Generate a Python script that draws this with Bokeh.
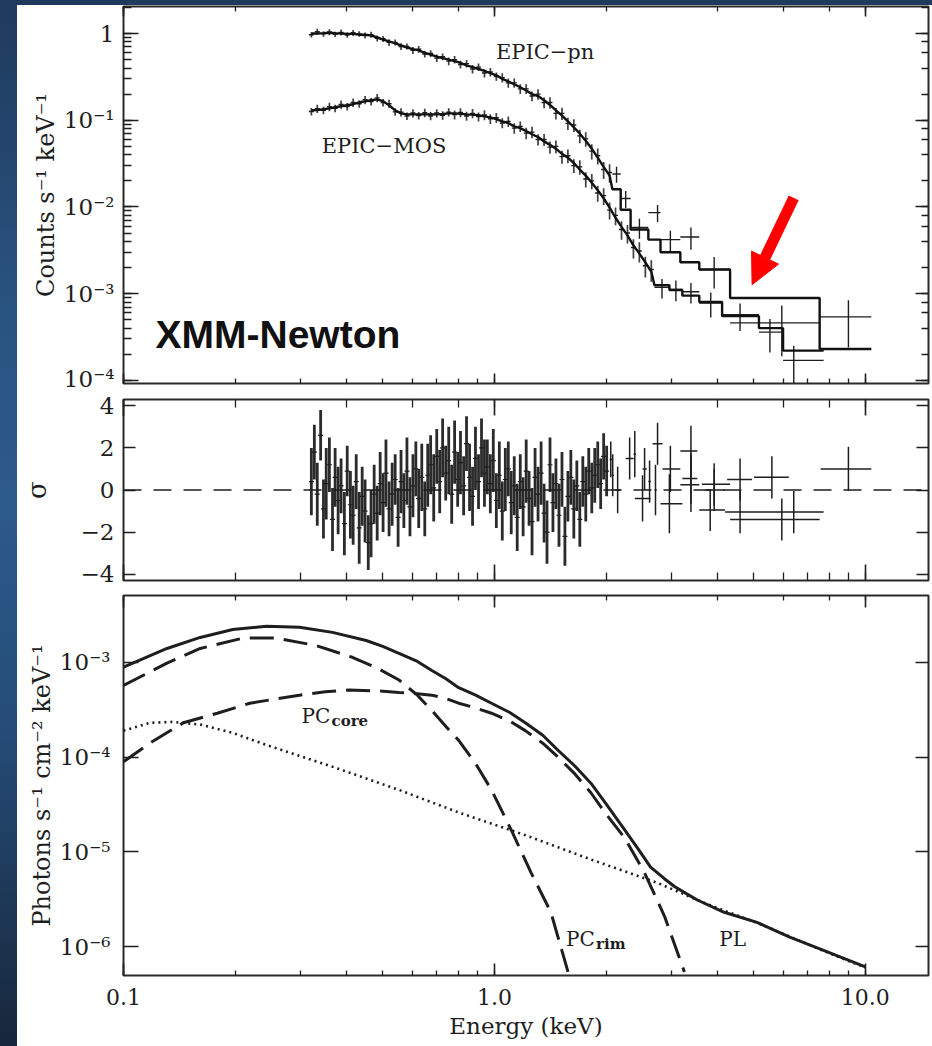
from bokeh.plotting import figure
from bokeh.models import (Range1d, LogAxis, LinearAxis, FixedTicker, CustomJSTickFormatter,
                          Arrow, NormalHead, Div, Span, Label)
from bokeh.layouts import column, row
from bokeh.embed import file_html
from bokeh.resources import INLINE

# ---------------- data: top panel (counts spectra) ----------------
pn_e = [0.321, 0.333, 0.346, 0.359, 0.372, 0.386, 0.401, 0.416, 0.432, 0.448,
        0.465, 0.483, 0.501, 0.520, 0.540, 0.560, 0.581, 0.603, 0.625, 0.649,
        0.673, 0.699, 0.725, 0.753, 0.781, 0.810, 0.841, 0.873, 0.906, 0.940,
        0.975, 1.012, 1.050, 1.090, 1.131, 1.174, 1.218, 1.263, 1.311, 1.361,
        1.412, 1.465, 1.521, 1.578, 1.637, 1.699, 1.763, 1.830, 1.899, 1.970,
        2.044]
pn_rate = [0.97, 1.05, 0.99, 1.04, 0.98, 1.03, 0.96, 1.02, 0.99, 0.95,
           0.97, 0.88, 0.87, 0.79, 0.79, 0.71, 0.71, 0.64, 0.66, 0.58,
           0.59, 0.52, 0.54, 0.48, 0.50, 0.44, 0.45, 0.39, 0.41, 0.35,
           0.36, 0.32, 0.31, 0.27, 0.27, 0.23, 0.23, 0.19, 0.20, 0.16,
           0.16, 0.12, 0.12, 0.092, 0.088, 0.066, 0.061, 0.044, 0.039, 0.027,
           0.025]
pn_relerr = [0.07, 0.08, 0.07, 0.08, 0.07, 0.08, 0.07, 0.08, 0.07, 0.08,
             0.08, 0.08, 0.08, 0.09, 0.08, 0.09, 0.08, 0.09, 0.09, 0.09,
             0.09, 0.10, 0.09, 0.10, 0.10, 0.10, 0.10, 0.11, 0.10, 0.11,
             0.11, 0.11, 0.12, 0.12, 0.12, 0.13, 0.13, 0.13, 0.14, 0.14,
             0.15, 0.15, 0.16, 0.16, 0.17, 0.18, 0.19, 0.20, 0.21, 0.22,
             0.24]
pn_model = [1.00, 1.00, 1.01, 1.02, 1.01, 1.00, 0.99, 0.99, 0.97, 0.97,
            0.95, 0.90, 0.85, 0.81, 0.77, 0.73, 0.69, 0.66, 0.64, 0.60,
            0.57, 0.54, 0.52, 0.50, 0.48, 0.46, 0.43, 0.41, 0.39, 0.37,
            0.35, 0.33, 0.30, 0.28, 0.26, 0.24, 0.22, 0.20, 0.19, 0.17,
            0.15, 0.13, 0.113, 0.097, 0.083, 0.070, 0.058, 0.047, 0.037, 0.029,
            0.023]
# wide (grouped) pn bins at high energy
pn_w_lo = [2.080, 2.190, 2.329, 2.600, 2.804, 3.171, 3.567, 4.319, 7.530]
pn_w_hi = [2.190, 2.329, 2.600, 2.804, 3.171, 3.567, 4.319, 7.530, 10.38]
pn_w_e = [2.134, 2.259, 2.460, 2.753, 2.981, 3.387, 3.912, 5.954, 9.003]
pn_w_rate = [0.024, 0.0125, 0.0058, 0.0086, 0.0042, 0.0045, 0.0019, 0.00046, 0.00054]
pn_w_err = [0.005, 0.0028, 0.0015, 0.0019, 0.0011, 0.0013, 0.00075, 0.00027, 0.00030]
pn_w_model = [0.016, 0.0093, 0.0055, 0.0042, 0.0030, 0.0023, 0.0019, 0.00089, 0.00023]

mos_e = [0.321, 0.333, 0.346, 0.359, 0.372, 0.386, 0.401, 0.416, 0.432, 0.448,
         0.465, 0.483, 0.501, 0.520, 0.540, 0.560, 0.581, 0.603, 0.625, 0.649,
         0.673, 0.699, 0.725, 0.753, 0.781, 0.810, 0.841, 0.873, 0.906, 0.940,
         0.975, 1.012, 1.050, 1.090, 1.131, 1.174, 1.218, 1.263, 1.311, 1.361,
         1.412, 1.465, 1.521, 1.578, 1.637, 1.699, 1.763, 1.830, 1.899, 1.970,
         2.044, 2.121, 2.201, 2.284, 2.370, 2.459, 2.552, 2.648]
mos_rate = [0.126, 0.136, 0.130, 0.143, 0.137, 0.152, 0.144, 0.160, 0.155, 0.172,
            0.164, 0.181, 0.160, 0.155, 0.125, 0.124, 0.112, 0.121, 0.113, 0.122,
            0.112, 0.121, 0.114, 0.124, 0.116, 0.123, 0.112, 0.120, 0.110, 0.115,
            0.104, 0.107, 0.093, 0.097, 0.081, 0.085, 0.071, 0.073, 0.060, 0.060,
            0.049, 0.050, 0.038, 0.039, 0.030, 0.029, 0.021, 0.020, 0.0145, 0.0135,
            0.0092, 0.0080, 0.0055, 0.0050, 0.0034, 0.0031, 0.0021, 0.0019]
mos_relerr = [0.10, 0.11, 0.10, 0.11, 0.10, 0.11, 0.10, 0.11, 0.10, 0.11,
              0.10, 0.11, 0.10, 0.11, 0.10, 0.11, 0.10, 0.11, 0.10, 0.11,
              0.11, 0.11, 0.11, 0.11, 0.12, 0.12, 0.12, 0.12, 0.12, 0.13,
              0.13, 0.13, 0.13, 0.14, 0.14, 0.14, 0.15, 0.15, 0.15, 0.16,
              0.16, 0.17, 0.17, 0.18, 0.18, 0.19, 0.20, 0.20, 0.21, 0.22,
              0.22, 0.23, 0.24, 0.24, 0.25, 0.26, 0.27, 0.28]
mos_model = [0.130, 0.131, 0.134, 0.137, 0.141, 0.145, 0.149, 0.153, 0.161, 0.165,
             0.170, 0.174, 0.166, 0.149, 0.130, 0.120, 0.117, 0.117, 0.117, 0.117,
             0.117, 0.117, 0.118, 0.120, 0.120, 0.119, 0.117, 0.116, 0.114, 0.111,
             0.108, 0.103, 0.097, 0.093, 0.085, 0.081, 0.075, 0.069, 0.064, 0.057,
             0.052, 0.047, 0.041, 0.037, 0.032, 0.027, 0.023, 0.019, 0.0156, 0.0126,
             0.0098, 0.0075, 0.0059, 0.0047, 0.0036, 0.0029, 0.0023, 0.0018]
mos_w_lo = [2.701, 2.963, 3.211, 3.567, 4.110, 5.166, 6.000]
mos_w_hi = [2.963, 3.211, 3.567, 4.110, 5.166, 6.000, 7.718]
mos_w_e = [2.830, 3.085, 3.387, 3.830, 4.594, 5.530, 6.412]
mos_w_rate = [0.00118, 0.00112, 0.00105, 0.00078, 0.00057, 0.00036, 0.00017]
mos_w_err = [0.00030, 0.00030, 0.00028, 0.00025, 0.00020, 0.00015, 0.00008]
mos_w_model = [0.00125, 0.00110, 0.00095, 0.00080, 0.00055, 0.00040, 0.00022]

# ---------------- data: residual panel (sigma) ----------------
res_e = [0.321, 0.327, 0.333, 0.340, 0.346, 0.352, 0.359, 0.366, 0.372, 0.379,
         0.386, 0.394, 0.401, 0.409, 0.416, 0.424, 0.432, 0.440, 0.448, 0.457,
         0.465, 0.474, 0.483, 0.492, 0.501, 0.510, 0.520, 0.530, 0.540, 0.550,
         0.560, 0.570, 0.581, 0.592, 0.603, 0.614, 0.625, 0.637, 0.649, 0.661,
         0.673, 0.686, 0.699, 0.712, 0.725, 0.739, 0.753, 0.767, 0.781, 0.796,
         0.810, 0.826, 0.841, 0.857, 0.873, 0.889, 0.906, 0.923, 0.940, 0.957,
         0.975, 0.993, 1.012, 1.031, 1.050, 1.070, 1.090, 1.110, 1.131, 1.152,
         1.174, 1.195, 1.218, 1.240, 1.263, 1.287, 1.311, 1.336, 1.361, 1.386,
         1.412, 1.438, 1.465, 1.493, 1.521, 1.549, 1.578, 1.607, 1.637, 1.668,
         1.699, 1.731, 1.763, 1.796, 1.830, 1.864, 1.899, 1.934, 1.970, 2.007]
res_val = [0.4, 1.8, -0.2, 2.6, -0.9, 0.3, 1.2, -1.4, 0.6, -0.5,
           0.2, -1.6, 0.9, -0.7, -1.2, 0.4, -1.8, -0.3, -1.0, -2.5,
           -1.6, -0.2, -1.1, 0.3, -0.6, 0.8, -0.9, -0.2, 0.5, -1.3,
           0.4, -0.5, 0.9, -0.8, 0.2, 1.0, -0.4, 0.6, -0.9, 0.7,
           1.2, 0.1, 1.6, 0.4, 2.0, 0.8, 1.4, -0.2, 1.8, 0.5,
           1.3, 0.2, 2.2, 0.6, -0.3, 1.5, 0.4, 2.0, 0.8, 1.1,
           0.3, 1.4, -0.5, 0.7, -1.0, 0.5, 1.0, -0.6, 0.2, -1.3,
           0.4, -0.8, 0.9, -0.4, -1.5, 0.6, -0.2, 0.8, -1.1, -2.0,
           1.2, -0.6, 0.3, -1.2, 0.5, -2.2, -0.3, 0.6, -0.9, 0.2,
           -1.4, 0.4, -0.2, 0.9, 0.1, 0.7, 1.2, 0.3, 1.6, 0.9]
res_err = [1.6, 1.3, 1.5, 1.2, 1.4, 1.7, 1.3, 1.5, 1.4, 1.6,
           1.3, 1.5, 1.2, 1.6, 1.4, 1.3, 1.7, 1.4, 1.5, 1.3,
           1.6, 1.4, 1.3, 1.5, 1.4, 1.6, 1.3, 1.5, 1.2, 1.4,
           1.5, 1.3, 1.6, 1.4, 1.5, 1.3, 1.4, 1.6, 1.3, 1.5,
           1.4, 1.6, 1.3, 1.5, 1.4, 1.3, 1.6, 1.4, 1.5, 1.3,
           1.5, 1.4, 1.3, 1.6, 1.4, 1.5, 1.3, 1.4, 1.6, 1.3,
           1.4, 1.5, 1.3, 1.6, 1.4, 1.5, 1.3, 1.5, 1.4, 1.6,
           1.3, 1.4, 1.5, 1.3, 1.6, 1.4, 1.3, 1.5, 1.4, 1.5,
           1.3, 1.4, 1.2, 1.5, 1.3, 1.4, 1.2, 1.3, 1.4, 1.2,
           1.3, 1.2, 1.3, 1.1, 1.2, 1.3, 1.1, 1.2, 1.1, 1.2]
resw_lo = [2.045, 2.070, 2.110, 2.259, 2.373, 2.508, 2.600, 2.390, 2.669, 2.700,
           2.839, 2.804, 3.171, 3.211, 3.171, 3.625, 3.702, 3.567, 4.240, 4.188,
           5.009, 4.319, 5.166, 7.576]
resw_hi = [2.075, 2.098, 2.190, 2.373, 2.410, 2.575, 2.640, 2.636, 2.839, 2.740,
           3.171, 3.211, 3.524, 3.524, 3.567, 4.319, 4.188, 4.188, 4.947, 5.166,
           6.218, 7.530, 7.718, 10.38]
resw_e = [2.059, 2.084, 2.149, 2.315, 2.390, 2.540, 2.620, 2.508, 2.753, 2.718,
          2.981, 2.963, 3.387, 3.387, 3.387, 3.912, 3.912, 3.817, 4.594, 4.594,
          5.598, 5.954, 6.412, 9.003]
resw_val = [1.45, 0.70, 0.00, 1.50, 1.70, 1.00, 0.40, -0.40, 2.20, 0.00,
            1.00, -0.65, 1.85, 0.55, 0.25, 0.27, 0.00, -0.95, 0.50, -1.05,
            0.60, -1.40, -1.05, 1.00]
resw_err = [0.85, 1.00, 1.10, 1.00, 1.10, 1.00, 1.00, 1.10, 1.00, 1.20,
            1.10, 1.40, 1.20, 1.20, 1.30, 1.00, 1.00, 1.00, 1.00, 1.00,
            1.00, 1.00, 1.00, 1.05]

# ---------------- data: bottom panel (unfolded model) ----------------
tot_e = [0.100, 0.131, 0.161, 0.197, 0.243, 0.298, 0.366, 0.451, 0.500, 0.553,
         0.620, 0.678, 0.740, 0.801, 0.890, 0.982, 1.100, 1.211, 1.350, 1.484,
         1.650, 1.820, 2.000, 2.245, 2.450, 2.636, 2.873, 3.057, 3.300, 3.524,
         4.162, 5.104, 6.254, 7.718, 10.0]
tot_f = [8.9e-4, 1.40e-3, 1.83e-3, 2.22e-3, 2.40e-3, 2.34e-3, 2.07e-3, 1.70e-3, 1.47e-3, 1.24e-3,
         1.02e-3, 8.2e-4, 6.7e-4, 5.4e-4, 4.5e-4, 3.7e-4, 2.95e-4, 2.3e-4, 1.7e-4, 1.18e-4,
         8.0e-5, 5.3e-5, 3.2e-5, 1.7e-5, 1.05e-5, 6.9e-6, 5.2e-6, 4.3e-6, 3.6e-6, 3.1e-6,
         2.3e-6, 1.8e-6, 1.26e-6, 9.1e-7, 6.1e-7]
rim_e = [0.100, 0.131, 0.161, 0.210, 0.259, 0.331, 0.414, 0.480, 0.553, 0.620,
         0.678, 0.740, 0.801, 0.890, 0.982, 1.110, 1.256, 1.420, 1.579]
rim_f = [5.7e-4, 9.8e-4, 1.4e-3, 1.8e-3, 1.8e-3, 1.5e-3, 1.13e-3, 8.8e-4, 6.5e-4, 4.5e-4,
         3.1e-4, 2.1e-4, 1.5e-4, 8.5e-5, 4.5e-5, 1.7e-5, 6.0e-6, 2.3e-6, 5.4e-7]
core_e = [0.100, 0.118, 0.145, 0.179, 0.219, 0.298, 0.350, 0.406, 0.480, 0.553,
          0.620, 0.678, 0.740, 0.801, 0.890, 0.982, 1.100, 1.211, 1.350, 1.484,
          1.650, 1.820, 2.000, 2.245, 2.540, 2.873, 3.252]
core_f = [8.9e-5, 1.41e-4, 2.3e-4, 2.9e-4, 3.7e-4, 4.5e-4, 4.9e-4, 5.1e-4, 5.0e-4, 4.8e-4,
          4.65e-4, 4.5e-4, 4.15e-4, 3.7e-4, 3.3e-4, 2.9e-4, 2.4e-4, 1.9e-4, 1.4e-4, 1.0e-4,
          6.6e-5, 4.2e-5, 2.5e-5, 1.4e-5, 6.0e-6, 2.1e-6, 5.4e-7]
pl_e = [0.100, 0.118, 0.136, 0.161, 0.197, 0.243, 0.366, 0.553, 0.801, 1.211,
        1.820, 2.753, 3.747, 5.104, 7.718, 10.0]
pl_f = [1.9e-4, 2.3e-4, 2.35e-4, 2.2e-4, 1.8e-4, 1.34e-4, 7.9e-5, 4.5e-5, 2.6e-5, 1.5e-5,
        8.3e-6, 4.7e-6, 2.8e-6, 1.78e-6, 9.0e-7, 6.0e-7]

# ---------------- styling helpers ----------------
SERIF = "DejaVu Serif"
INK = "#1e1e1e"
X_RANGE = (0.1, 14.8)


def pow_fmt():
    return CustomJSTickFormatter(code="""
const e = Math.round(Math.log10(tick));
if (e === 0) { return "1"; }
const sup = {"-": "\\u207b", "0": "\\u2070", "1": "\\u00b9", "2": "\\u00b2", "3": "\\u00b3",
             "4": "\\u2074", "5": "\\u2075", "6": "\\u2076", "7": "\\u2077", "8": "\\u2078", "9": "\\u2079"};
return "10" + String(e).split("").map(c => sup[c]).join("");
""")


def make_fig(height, y_type, y_range, top, bottom):
    p = figure(width=915, height=height, x_axis_type="log", y_axis_type=y_type,
               x_range=Range1d(*X_RANGE), y_range=Range1d(*y_range),
               output_backend="svg", toolbar_location=None,
               min_border_left=106, min_border_right=0,
               min_border_top=top, min_border_bottom=bottom)
    p.grid.visible = False
    p.outline_line_color = "#2a2a2a"
    p.outline_line_width = 2
    p.background_fill_color = "white"
    p.border_fill_color = "white"
    return p


def ticks(ax, maj, mnr):
    ax.axis_line_color = None
    ax.major_tick_in = maj
    ax.major_tick_out = 0
    ax.major_tick_line_color = INK
    ax.major_tick_line_width = 1.6
    if mnr:
        ax.minor_tick_in = mnr
        ax.minor_tick_out = 0
        ax.minor_tick_line_color = INK
        ax.minor_tick_line_width = 1.3
    else:
        ax.minor_tick_line_color = None


def hide_labels(ax):
    ax.major_label_text_font_size = "1px"
    ax.major_label_text_alpha = 0
    ax.major_label_standoff = 0


def show_labels(ax, title, title_standoff, size="23px", title_size="24px"):
    ax.major_label_text_font = SERIF
    ax.major_label_text_font_size = size
    ax.major_label_text_color = INK
    ax.major_label_standoff = 9
    ax.axis_label = title
    ax.axis_label_text_font = SERIF
    ax.axis_label_text_font_style = "normal"
    ax.axis_label_text_font_size = title_size
    ax.axis_label_text_color = INK
    ax.axis_label_standoff = title_standoff


def add_frame_axes(p, log_y, ymaj, ymin, xmaj, xmin, yticker=None):
    top = LogAxis()
    ticks(top, xmaj, xmin)
    hide_labels(top)
    p.add_layout(top, "above")
    right = LogAxis() if log_y else LinearAxis()
    if yticker is not None:
        right.ticker = yticker
    ticks(right, ymaj, ymin)
    hide_labels(right)
    p.add_layout(right, "right")


# ---------------- top panel ----------------
p1 = make_fig(386, "log", (9.2e-5, 2.05), 1, 8)
ticks(p1.xaxis[0], 10, 5)
hide_labels(p1.xaxis[0])
ticks(p1.yaxis[0], 15, 8)
show_labels(p1.yaxis[0], "Counts s\u207b\u00b9 keV\u207b\u00b9", 1)
p1.yaxis[0].formatter = pow_fmt()
add_frame_axes(p1, True, 13, 7, 10, 5)

for e, r, rel, m in ((pn_e, pn_rate, pn_relerr, pn_model),
                     (mos_e, mos_rate, mos_relerr, mos_model)):
    lo = [ri * (1 - q) for ri, q in zip(r, rel)]
    hi = [ri * (1 + q) for ri, q in zip(r, rel)]
    p1.segment(x0=e, y0=lo, x1=e, y1=hi, line_color=INK, line_width=1.7, line_alpha=0.85)
    p1.scatter(x=e, y=r, size=5, marker="dash", line_color=INK, line_width=1.4)

for e, wl, wh, wr, we, wm, de, dm in ((pn_w_e, pn_w_lo, pn_w_hi, pn_w_rate, pn_w_err, pn_w_model, pn_e, pn_model),
                                      (mos_w_e, mos_w_lo, mos_w_hi, mos_w_rate, mos_w_err, mos_w_model, mos_e, mos_model)):
    p1.segment(x0=wl, y0=wr, x1=wh, y1=wr, line_color=INK, line_width=1.4)
    p1.segment(x0=e, y0=[a - b for a, b in zip(wr, we)], x1=e, y1=[a + b for a, b in zip(wr, we)],
               line_color=INK, line_width=1.4)
    mx = list(de)
    my = list(dm)
    for lo_, hi_, mv in zip(wl, wh, wm):
        mx += [lo_, hi_]
        my += [mv, mv]
    p1.line(x=mx, y=my, line_color="#111111", line_width=2.4)

p1.add_layout(Label(x=1.37, y=0.62, text="EPIC\u2212pn", text_font=SERIF, text_font_size="21px",
                    text_color=INK, text_align="center", text_baseline="middle"))
p1.add_layout(Label(x=0.504, y=0.050, text="EPIC\u2212MOS", text_font=SERIF, text_font_size="21px",
                    text_color=INK, text_align="center", text_baseline="middle"))
p1.add_layout(Label(x=0.122, y=3.4e-4, text="XMM-Newton", text_font="Liberation Sans",
                    text_font_style="bold", text_font_size="39px", text_color="#111111",
                    text_align="left", text_baseline="middle"))
p1.add_layout(Arrow(end=NormalHead(size=30, fill_color="#ff0000", line_color="#ff0000"),
                    x_start=6.41, y_start=0.0127, x_end=4.95, y_end=0.00127,
                    line_color="#ff0000", line_width=11))

# ---------------- residual panel ----------------
p2 = make_fig(197, "linear", (-4.3, 4.3), 8, 8)
ticks(p2.xaxis[0], 16, 8)
hide_labels(p2.xaxis[0])
p2.yaxis[0].ticker = FixedTicker(ticks=[-4, -2, 0, 2, 4])
ticks(p2.yaxis[0], 12, 0)
show_labels(p2.yaxis[0], "\u03c3", 26, title_size="26px")
p2.yaxis[0].formatter = CustomJSTickFormatter(code="return tick < 0 ? '\\u2212' + Math.abs(tick) : String(tick);")
add_frame_axes(p2, False, 12, 0, 16, 8, FixedTicker(ticks=[-4, -2, 0, 2, 4]))

p2.add_layout(Span(location=0, dimension="width", line_color=INK, line_width=1.6, line_dash="18 12"))
p2.segment(x0=res_e, y0=[v - s for v, s in zip(res_val, res_err)],
           x1=res_e, y1=[v + s for v, s in zip(res_val, res_err)],
           line_color="#141414", line_width=2.8, line_alpha=0.9)
p2.scatter(x=res_e, y=res_val, size=5, marker="dash", line_color=INK, line_width=1.2)
p2.segment(x0=resw_lo, y0=resw_val, x1=resw_hi, y1=resw_val, line_color=INK, line_width=1.5)
p2.segment(x0=resw_e, y0=[v - s for v, s in zip(resw_val, resw_err)],
           x1=resw_e, y1=[v + s for v, s in zip(resw_val, resw_err)], line_color=INK, line_width=1.5)

# ---------------- model panel ----------------
p3 = make_fig(458, "log", (4.95e-7, 5.07e-3), 7, 71)
ticks(p3.xaxis[0], 12, 5)
show_labels(p3.xaxis[0], "Energy (keV)", 5, size="22px", title_size="23px")
p3.xaxis[0].major_label_standoff = 13
p3.xaxis[0].formatter = CustomJSTickFormatter(code="return tick < 0.5 ? '0.1' : (tick < 5 ? '1.0' : '10.0');")
ticks(p3.yaxis[0], 15, 0)
show_labels(p3.yaxis[0], "Photons s\u207b\u00b9 cm\u207b\u00b2 keV\u207b\u00b9", 1)
p3.yaxis[0].formatter = pow_fmt()
add_frame_axes(p3, True, 13, 0, 12, 5)

p3.line(x=pl_e, y=pl_f, line_color=INK, line_width=2.6, line_dash="2 4")
p3.line(x=core_e, y=core_f, line_color=INK, line_width=3, line_dash="24 10")
p3.line(x=rim_e, y=rim_f, line_color=INK, line_width=3, line_dash="24 10")
p3.line(x=tot_e, y=tot_f, line_color=INK, line_width=3)

p3.add_layout(Label(x=0.302, y=2.7e-4, text="PC", text_font=SERIF, text_font_size="20px",
                    text_color=INK, text_align="left", text_baseline="middle"))
p3.add_layout(Label(x=0.302, y=2.7e-4, x_offset=30, y_offset=-5, text="core", text_font=SERIF,
                    text_font_style="bold", text_font_size="15px", text_color=INK,
                    text_align="left", text_baseline="middle"))
p3.add_layout(Label(x=1.56, y=1.19e-6, text="PC", text_font=SERIF, text_font_size="20px",
                    text_color=INK, text_align="left", text_baseline="middle"))
p3.add_layout(Label(x=1.56, y=1.19e-6, x_offset=30, y_offset=-5, text="rim", text_font=SERIF,
                    text_font_style="bold", text_font_size="15px", text_color=INK,
                    text_align="left", text_baseline="middle"))
p3.add_layout(Label(x=4.04, y=1.19e-6, text="PL", text_font=SERIF, text_font_size="20px",
                    text_color=INK, text_align="left", text_baseline="middle"))

# ---------------- page ----------------
left_strip = Div(width=17, height=1046, margin=0, styles={
    "background": "linear-gradient(to bottom, #1f3a5c 0%, #29527f 28%, #2c5a8b 48%, #254c77 70%, #17273b 100%)"})
top_strip = Div(width=915, height=5, margin=0, styles={"background": "#1f3a5c"})
layout = row(left_strip, column(top_strip, p1, p2, p3, spacing=0), spacing=0)

open("out.html", "w").write(file_html(layout, INLINE))
